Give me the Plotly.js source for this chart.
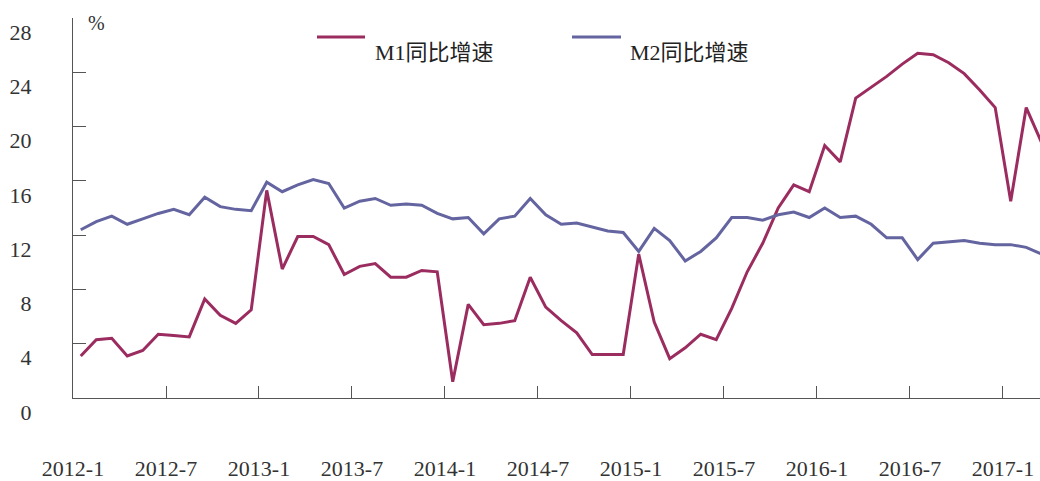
<!DOCTYPE html>
<html><head><meta charset="utf-8">
<script src="https://cdn.plot.ly/plotly-3.0.1.min.js"></script>
<style>html,body{margin:0;padding:0;overflow:hidden;background:#fff}#chart{width:1040px;height:481px}</style>
</head><body><div id="chart"></div>
<script>
const months = [
 "2012-1","2012-2","2012-3","2012-4","2012-5","2012-6","2012-7","2012-8","2012-9","2012-10","2012-11","2012-12",
 "2013-1","2013-2","2013-3","2013-4","2013-5","2013-6","2013-7","2013-8","2013-9","2013-10","2013-11","2013-12",
 "2014-1","2014-2","2014-3","2014-4","2014-5","2014-6","2014-7","2014-8","2014-9","2014-10","2014-11","2014-12",
 "2015-1","2015-2","2015-3","2015-4","2015-5","2015-6","2015-7","2015-8","2015-9","2015-10","2015-11","2015-12",
 "2016-1","2016-2","2016-3","2016-4","2016-5","2016-6","2016-7","2016-8","2016-9","2016-10","2016-11","2016-12",
 "2017-1","2017-2","2017-3"
];
const m1 = [
 3.1, 4.3, 4.4, 3.1, 3.5, 4.7, 4.6, 4.5, 7.3, 6.1, 5.5, 6.5,
 15.3, 9.5, 11.9, 11.9, 11.3, 9.1, 9.7, 9.9, 8.9, 8.9, 9.4, 9.3,
 1.2, 6.9, 5.4, 5.5, 5.7, 8.9, 6.7, 5.7, 4.8, 3.2, 3.2, 3.2,
 10.6, 5.6, 2.9, 3.7, 4.7, 4.3, 6.6, 9.3, 11.4, 14.0, 15.7, 15.2,
 18.6, 17.4, 22.1, 22.9, 23.7, 24.6, 25.4, 25.3, 24.7, 23.9, 22.7, 21.4,
 14.5, 21.4, 18.8
];
const m2 = [
 12.4, 13.0, 13.4, 12.8, 13.2, 13.6, 13.9, 13.5, 14.8, 14.1, 13.9, 13.8,
 15.9, 15.2, 15.7, 16.1, 15.8, 14.0, 14.5, 14.7, 14.2, 14.3, 14.2, 13.6,
 13.2, 13.3, 12.1, 13.2, 13.4, 14.7, 13.5, 12.8, 12.9, 12.6, 12.3, 12.2,
 10.8, 12.5, 11.6, 10.1, 10.8, 11.8, 13.3, 13.3, 13.1, 13.5, 13.7, 13.3,
 14.0, 13.3, 13.4, 12.8, 11.8, 11.8, 10.2, 11.4, 11.5, 11.6, 11.4, 11.3,
 11.3, 11.1, 10.6
];
const seriesNames = ["M1同比增速", "M2同比增速"];
const xTickLabels = ["2012-1","2012-7","2013-1","2013-7","2014-1","2014-7","2015-1","2015-7","2016-1","2016-7","2017-1"];
const yTicks = [0, 4, 8, 12, 16, 20, 24, 28];
const unitLabel = "%";

const C1 = "#9b2c5f", C2 = "#6464a0", AX = "#555555";
const FONT = '"Liberation Serif","Noto Sans CJK SC",serif';
const L = 73, T = 18, B = 83, WIDTH = 1040, HEIGHT = 481;
const PW = WIDTH - L, PH = HEIGHT - T - B;
const px = x => (x - L) / PW;
const py = y => (HEIGHT - B - y) / PH;

const xs = months.map((m, i) => i);
const traces = [
 {x: xs, y: m1, text: months, name: seriesNames[0], type: "scatter", mode: "lines",
  line: {color: C1, width: 3}, hovertemplate: "%{text}: %{y}%<extra></extra>"},
 {x: xs, y: m2, text: months, name: seriesNames[1], type: "scatter", mode: "lines",
  line: {color: C2, width: 3}, hovertemplate: "%{text}: %{y}%<extra></extra>"}
];

const layout = {
 width: WIDTH, height: HEIGHT,
 margin: {l: L, r: 0, t: T, b: B, pad: 0},
 paper_bgcolor: "#fff", plot_bgcolor: "#fff",
 showlegend: false,
 font: {family: FONT, size: 22, color: "#333"},
 xaxis: {
  range: [-0.5, 61.89], tickmode: "array",
  tickvals: xTickLabels.map(l => months.indexOf(l) - 0.5),
  ticktext: xTickLabels,
  ticks: "inside", ticklen: 12, tickwidth: 1, tickcolor: AX,
  showline: true, linecolor: AX, linewidth: 1,
  showgrid: false, zeroline: false,
  ticklabelshift: 7.75, ticklabelstandoff: 51,
  tickfont: {family: FONT, size: 22, color: "#333"}
 },
 yaxis: {
  range: [0, 28], tickmode: "array", tickvals: yTicks, ticktext: yTicks.map(String),
  ticks: "inside", ticklen: 13, tickwidth: 1, tickcolor: AX,
  showline: true, linecolor: AX, linewidth: 1,
  showgrid: false, zeroline: false,
  ticklabelshift: 14, ticklabelstandoff: 36,
  tickfont: {family: FONT, size: 22, color: "#333"}
 },
 shapes: [
  {type: "line", xref: "paper", yref: "paper", x0: px(317), x1: px(365), y0: py(37), y1: py(37), line: {color: C1, width: 3}},
  {type: "line", xref: "paper", yref: "paper", x0: px(572), x1: px(621), y0: py(37), y1: py(37), line: {color: C2, width: 3}}
 ],
 annotations: [
  {xref: "paper", yref: "paper", x: px(373), y: py(53), xanchor: "left", yanchor: "middle", showarrow: false,
   text: seriesNames[0], font: {family: FONT, size: 22, color: "#222"}},
  {xref: "paper", yref: "paper", x: px(628), y: py(53), xanchor: "left", yanchor: "middle", showarrow: false,
   text: seriesNames[1], font: {family: FONT, size: 22, color: "#222"}},
  {xref: "paper", yref: "paper", x: px(86), y: py(23), xanchor: "left", yanchor: "middle", showarrow: false,
   text: unitLabel, font: {family: FONT, size: 20, color: "#333"}}
 ]
};
Plotly.newPlot("chart", traces, layout, {displayModeBar: false, staticPlot: true});
</script></body></html>
